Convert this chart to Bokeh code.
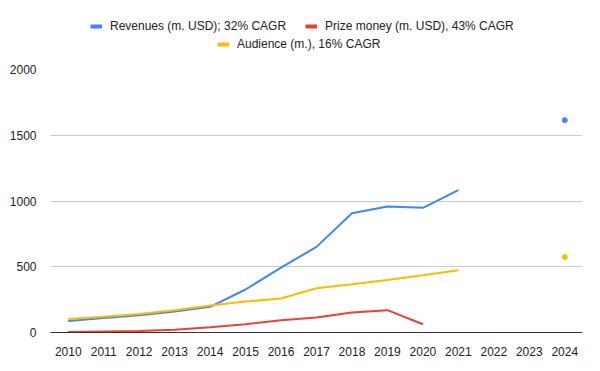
from bokeh.plotting import figure
from bokeh.layouts import column
from bokeh.models import Legend, LegendItem, FactorRange, SingleIntervalTicker, Range1d
from bokeh.embed import file_html
from bokeh.resources import INLINE
import numpy as np

years = [str(y) for y in range(2010, 2025)]
revenues = [88, 111, 132, 160, 195, 327, 494, 651, 907, 958, 948, 1082, np.nan, np.nan, 1615]
prize = [4, 8, 12, 20, 40, 63, 94, 114, 152, 170, 63, np.nan, np.nan, np.nan, np.nan]
audience = [103, 120, 140, 170, 205, 235, 258, 337, 367, 400, 436, 474, np.nan, np.nan, 575]

names = ["Revenues (m. USD); 32% CAGR", "Prize money (m. USD), 43% CAGR", "Audience (m.), 16% CAGR"]
colors = ["#4285F4", "#EA4335", "#FBBC04"]

FONT = "Liberation Sans"
W = 600
LH = 60           # legend strip height
H = 311           # main figure height
BL, BR, BT, BB = 50, 18, 9, 39

p = figure(width=W, height=H, x_range=FactorRange(*years, range_padding=0),
           y_range=(0, 2000), output_backend="svg", toolbar_location=None,
           min_border_left=BL, min_border_right=BR, min_border_top=BT, min_border_bottom=BB)
p.outline_line_color = None
p.xgrid.grid_line_color = None
p.ygrid.grid_line_color = "#cccccc"
p.ygrid.grid_line_width = 1
p.yaxis.ticker = SingleIntervalTicker(interval=500)
p.yaxis.axis_line_color = None
p.yaxis.major_tick_line_color = None
p.yaxis.minor_tick_line_color = None
p.yaxis.major_label_standoff = 8
p.xaxis.axis_line_color = "#333333"
p.xaxis.axis_line_width = 1
p.xaxis.major_tick_line_color = None
p.xaxis.minor_tick_line_color = None
p.xaxis.major_label_standoff = 8
for ax in (p.xaxis, p.yaxis):
    ax.major_label_text_font = FONT
    ax.major_label_text_font_size = "12px"
    ax.major_label_text_color = "#222222"

for vals, c in zip([revenues, prize, audience], colors):
    p.line(years, vals, line_color=c, line_width=2)
    iso_x, iso_y = [], []
    for i, v in enumerate(vals):
        if np.isnan(v):
            continue
        left = i > 0 and not np.isnan(vals[i - 1])
        right = i < len(vals) - 1 and not np.isnan(vals[i + 1])
        if not left and not right:
            iso_x.append(years[i]); iso_y.append(v)
    if iso_x:
        p.scatter(iso_x, iso_y, size=5, color=c)

# legend strip (frame is aligned with the main frame, left edge at x=BL)
lg = figure(width=W, height=LH, x_range=Range1d(0, 1), y_range=Range1d(0, 1),
            output_backend="svg", toolbar_location=None,
            min_border_left=0, min_border_right=0, min_border_top=0, min_border_bottom=0)
lg.axis.visible = False
lg.grid.visible = False
lg.outline_line_color = None
dummies = [lg.line([np.nan], [np.nan], line_color=c, line_width=4) for c in colors]

def mk_legend(items, loc):
    return Legend(items=items, orientation="horizontal", location=loc,
                  label_text_font=FONT, label_text_font_size="12px", label_text_color="#222222",
                  glyph_width=12, glyph_height=12, label_standoff=8, spacing=19,
                  border_line_color=None, background_fill_alpha=0, padding=0, margin=0,
                  label_height=12)

lg.add_layout(mk_legend([LegendItem(label=names[0], renderers=[dummies[0]]),
                         LegendItem(label=names[1], renderers=[dummies[1]])], (40, 27)))
lg.add_layout(mk_legend([LegendItem(label=names[2], renderers=[dummies[2]])], (167, 9)))

open("out.html", "w").write(file_html(column(lg, p, spacing=0), INLINE))
